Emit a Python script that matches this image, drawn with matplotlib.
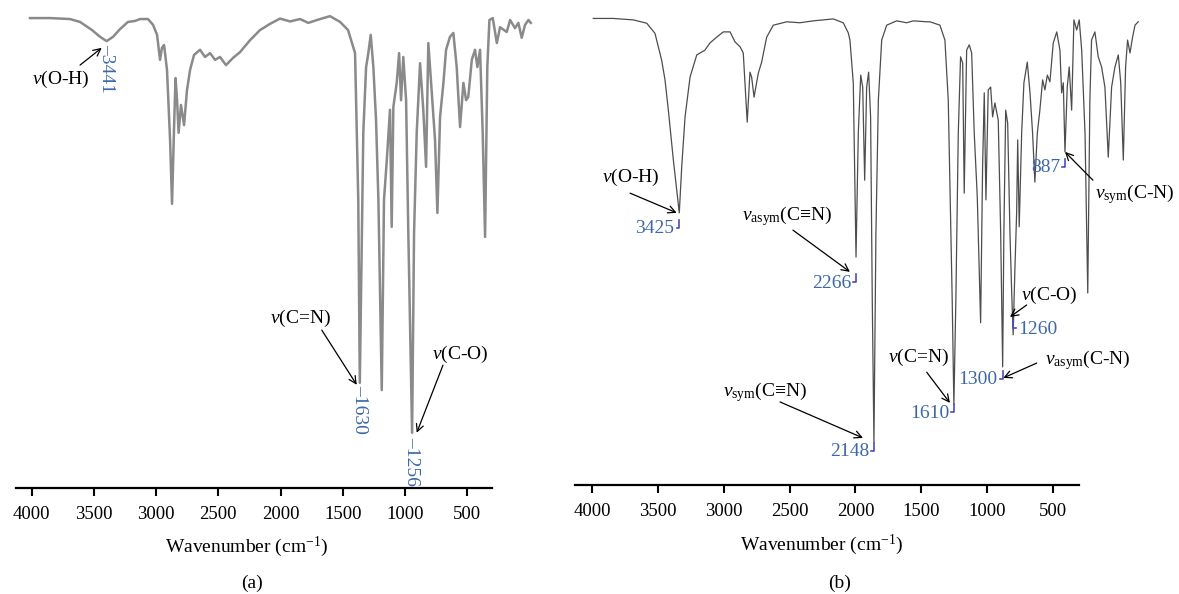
import matplotlib.pyplot as plt

plt.rcParams['font.family'] = ['Liberation Serif', 'DejaVu Serif']
plt.rcParams['mathtext.fontset'] = 'custom'
plt.rcParams['mathtext.rm'] = 'Liberation Serif'
plt.rcParams['mathtext.it'] = 'Liberation Serif:italic'

# (a) ligand spectrum: wavenumber (cm-1) and transmittance (%)
wn_a = [3989, 3846, 3703, 3631, 3545, 3488, 3441, 3395, 3345, 3288, 3238, 3202, 3145, 3109,
        3080, 3059, 3045, 3030, 3009, 2987, 2973, 2959, 2948, 2937, 2926, 2909, 2887, 2866,
        2844, 2816, 2773, 2737, 2701, 2665, 2630, 2587, 2537, 2487, 2415, 2344, 2272, 2201,
        2129, 2057, 1999, 1914, 1843, 1771, 1714, 1664, 1641, 1630, 1605, 1585, 1571, 1552,
        1533, 1514, 1497, 1473, 1457, 1437, 1414, 1402, 1390, 1366, 1349, 1335, 1319, 1299,
        1283, 1256, 1242, 1223, 1199, 1176, 1156, 1140, 1115, 1092, 1075, 1056, 1032, 1013,
        985, 961, 937, 913, 889, 870, 854, 829, 806, 789, 770, 751, 734, 718, 703, 679,
        650, 627, 579, 555, 520, 496, 472, 448, 424, 407]
t_a = [97.9, 97.9, 97.7, 97.1, 95.4, 94.0, 93.1, 94.0, 95.6, 97.1, 97.3, 97.7, 97.7, 96.5,
       94.4, 89.2, 91.7, 92.3, 87.1, 72.5, 59.2, 74.6, 85.4, 80.8, 74.0, 79.8, 75.6, 82.9,
       87.1, 90.2, 91.3, 89.8, 90.6, 89.2, 89.8, 88.1, 89.6, 90.8, 93.3, 95.4, 96.7, 97.8,
       97.2, 97.7, 96.9, 97.7, 98.3, 97.1, 95.4, 90.6, 60.0, 21.9, 74.0, 87.7, 90.2, 94.4,
       87.7, 76.7, 60.0, 20.4, 60.0, 68.3, 78.8, 54.4, 79.4, 84.4, 90.6, 80.8, 89.8, 80.8,
       53.1, 11.5, 53.1, 74.0, 88.5, 78.8, 66.9, 92.7, 82.3, 72.5, 57.3, 77.3, 84.4, 91.3,
       94.0, 94.8, 87.7, 75.2, 84.4, 80.8, 81.5, 89.2, 91.3, 87.7, 91.3, 74.0, 52.3, 87.7,
       97.5, 97.9, 92.7, 96.0, 95.0, 97.5, 95.8, 96.9, 93.8, 96.5, 97.5, 96.9]

# (b) complex spectrum
wn_b = [3991, 3859, 3728, 3639, 3585, 3541, 3519, 3497, 3464, 3425, 3409, 3387, 3354, 3310,
        3256, 3223, 3179, 3135, 3091, 3058, 3025, 3004, 2978, 2960, 2949, 2933, 2905, 2883,
        2850, 2806, 2718, 2631, 2543, 2412, 2346, 2313, 2302, 2280, 2262, 2247, 2231, 2218,
        2205, 2192, 2179, 2166, 2155, 2144, 2131, 2115, 2093, 2060, 1994, 1929, 1885, 1797,
        1775, 1710, 1677, 1655, 1639, 1629, 1618, 1605, 1589, 1574, 1560, 1550, 1534, 1517,
        1501, 1484, 1464, 1442, 1429, 1418, 1407, 1392, 1376, 1363, 1348, 1326, 1310, 1297,
        1289, 1277, 1264, 1249, 1238, 1228, 1216, 1205, 1198, 1188, 1172, 1157, 1135, 1117,
        1100, 1085, 1069, 1052, 1034, 1019, 1003, 986, 964, 941, 920, 909, 898, 887,
        872, 859, 843, 828, 810, 793, 777, 755, 737, 723, 712, 690, 668, 646,
        624, 602, 580, 558, 536, 520, 503, 488, 475, 459, 442, 426, 405]
t_b = [97.2, 97.2, 96.9, 96.2, 94.1, 88.5, 84.4, 78.1, 67.7, 56.7, 66.3, 76.7, 85.0, 89.6,
       90.6, 92.1, 93.3, 94.4, 94.4, 92.3, 91.3, 90.0, 75.6, 86.0, 85.0, 80.8, 85.8, 88.1,
       93.3, 95.8, 96.5, 96.3, 96.7, 97.1, 96.3, 94.2, 92.7, 83.8, 47.5, 73.3, 85.4, 82.9,
       63.5, 82.9, 86.0, 76.7, 38.5, 8.8, 52.5, 80.2, 92.7, 95.8, 96.7, 96.3, 96.7, 96.5,
       96.5, 95.8, 92.7, 80.2, 53.8, 38.5, 16.7, 38.5, 73.3, 89.2, 87.9, 60.8, 90.6, 91.7,
       90.0, 73.3, 60.0, 33.8, 66.3, 81.7, 59.4, 82.3, 82.9, 76.7, 79.6, 76.0, 52.5, 24.6,
       52.5, 78.1, 75.4, 52.5, 40.6, 31.3, 45.4, 56.7, 71.9, 53.8, 73.3, 83.8, 88.1, 81.7,
       73.3, 63.1, 73.3, 78.1, 84.4, 82.3, 85.4, 84.0, 92.1, 94.4, 90.6, 81.7, 83.8, 69.4,
       82.9, 87.1, 78.1, 96.9, 94.8, 96.9, 90.6, 73.3, 40.0, 80.2, 92.7, 94.4, 89.2, 87.1,
       82.9, 68.3, 82.9, 87.1, 89.6, 83.8, 67.7, 87.1, 92.7, 90.0, 93.3, 95.8, 96.5]

# labelled bands
bands_a = ['3441', '1630', '1256']
band_pos_a = [3441, 1630, 1256]
band_t_a = [92.5, 21.5, 10.6]

bands_b = ['3425', '2266', '2148', '1610', '1300', '1260', '887']
band_pos_b = [3425, 2262, 2144, 1618, 1297, 1228, 887]
band_t_b = [53.8, 42.5, 7.3, 15.4, 22.3, 32.9, 66.5]
band_side_b = ['left', 'left', 'left', 'left', 'left', 'right', 'left']

# assignments: text, text centre, arrow tail, arrow tip
notes_a = [
    (r'$\nu$(O-H)', (3767, 85.2), (3631, 88.1), (3476, 91.7)),
    (r'$\nu$(C=N)', (2057, 35.4), (1902, 32.9), (1652, 21.5)),
    (r'$\nu$(C-O)', (913, 27.9), (1035, 25.6), (1223, 11.5)),
]
notes_b = [
    (r'$\nu$(O-H)', (3743, 64.0), (3749, 60.8), (3442, 56.7)),
    (r'$\nu_{\mathrm{asym}}$(C≡N)', (2716, 56.0), (2677, 53.1), (2302, 44.4)),
    (r'$\nu_{\mathrm{sym}}$(C≡N)', (2861, 19.4), (2762, 17.3), (2216, 9.8)),
    (r'$\nu$(C=N)', (1854, 26.5), (1797, 23.5), (1644, 17.1)),
    (r'$\nu_{\mathrm{asym}}$(C-N)', (736, 26.0), (1073, 25.4), (1293, 22.3)),
    (r'$\nu$(C-O)', (992, 39.4), (1139, 37.5), (1249, 35.0)),
    (r'$\nu_{\mathrm{sym}}$(C-N)', (427, 60.6), (703, 63.5), (887, 69.4)),
]

ticks = [4000, 3500, 3000, 2500, 2000, 1500, 1000, 500]
blue = '#3d68a8'
bracket = '#4b4bc4'

fig = plt.figure(figsize=(11.79, 5.94), dpi=100)
ax_a = fig.add_axes([0.01357, 0.17845, 0.4402, 0.80808])
ax_b = fig.add_axes([0.48516, 0.18350, 0.48346, 0.80808])


def setup(ax, xlim, scale, offset, bounds):
    ax.set_xlim(*xlim)
    ax.set_ylim(0, 100)
    ax.set_facecolor('none')
    for s in ax.spines.values():
        s.set_visible(False)
    ax.set_xticks([])
    ax.set_yticks([])
    # the printed wavenumber scale of the figure
    sec = ax.secondary_xaxis('bottom', functions=(lambda t: scale * t - offset,
                                                  lambda p: (p + offset) / scale))
    sec.set_xticks(ticks)
    sec.spines['bottom'].set_bounds(*bounds)
    sec.spines['bottom'].set_linewidth(1.6)
    sec.tick_params(direction='out', length=6, width=1.5, pad=7, labelsize=13.5)


def arrow(ax, tail, tip):
    ax.annotate('', xy=tip, xytext=tail,
                arrowprops=dict(arrowstyle='->', lw=0.9, color='black',
                                shrinkA=0, shrinkB=0, mutation_scale=13))


setup(ax_a, (4089, 377), 1.124, 469.5, (301, 4126))
setup(ax_b, (4131, 380), 1.155, 617.1, (301, 4131))

ax_a.plot(wn_a, t_a, color='#8a8a8a', lw=1.8)
ax_b.plot(wn_b, t_b, color='#4d4d4d', lw=0.9)

for txt, pos, t in zip(bands_a, band_pos_a, band_t_a):
    ax_a.text(pos, t, '–' + txt, rotation=270, ha='center', va='top',
              color=blue, fontsize=14)

for txt, pos, t, side in zip(bands_b, band_pos_b, band_t_b, band_side_b):
    d = 18 if side == 'left' else -18
    ax_b.plot([pos, pos, pos + d], [t + 1.5, t - 0.2, t - 0.2], color=bracket, lw=1.2)
    ax_b.annotate(txt, xy=(pos, t), xytext=(-3.5 if side == 'left' else 3.5, 0),
                  textcoords='offset points', ha='right' if side == 'left' else 'left',
                  va='center_baseline', color=blue, fontsize=14)

for ax, notes in [(ax_a, notes_a), (ax_b, notes_b)]:
    for txt, centre, tail, tip in notes:
        ax.text(centre[0], centre[1], txt, ha='center', va='center', fontsize=14)
        arrow(ax, tail, tip)

fig.text(0.2095, 0.0791, 'Wavenumber (cm$^{-1}$)', ha='center', va='center', fontsize=14)
fig.text(0.6972, 0.0825, 'Wavenumber (cm$^{-1}$)', ha='center', va='center', fontsize=14)
fig.text(0.2137, 0.0185, '(a)', ha='center', va='center', fontsize=14)
fig.text(0.7125, 0.0185, '(b)', ha='center', va='center', fontsize=14)

plt.savefig('out.png', dpi=100)
